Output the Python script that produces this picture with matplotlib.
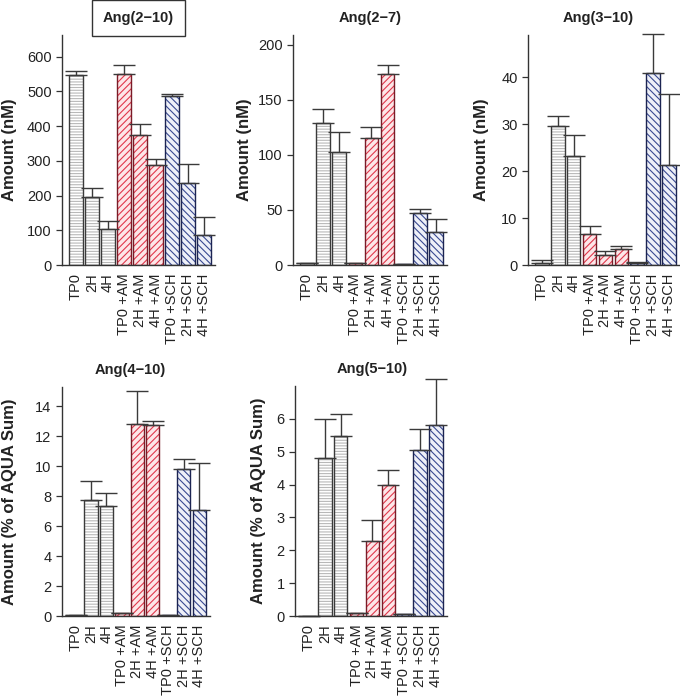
import matplotlib
matplotlib.use('Agg')
import matplotlib.pyplot as plt
import numpy as np

plt.rcParams['font.family'] = ['Liberation Sans', 'DejaVu Sans']
plt.rcParams['hatch.linewidth'] = 0.8

groups = ['TP0', '2H', '4H', 'TP0 +AM', '2H +AM', '4H +AM', 'TP0 +SCH', '2H +SCH', '4H +SCH']

titles = ['Ang(2\u221210)', 'Ang(2\u22127)', 'Ang(3\u221210)', 'Ang(4\u221210)', 'Ang(5\u221210)']
ylabels = ['Amount (nM)', 'Amount (nM)', 'Amount (nM)',
           'Amount (% of AQUA Sum)', 'Amount (% of AQUA Sum)']

ang_2_10 = [548, 196, 105, 551, 373, 288, 485, 236, 86]
ang_2_10_err = [9, 26, 22, 25, 34, 18, 8, 56, 52]
ang_2_7 = [1.5, 128.7, 103, 1.5, 115, 174, 1, 47.3, 30.3]
ang_2_7_err = [0, 13, 17.5, 0, 10.6, 8, 0, 4, 11.6]
ang_3_10 = [0.5, 29.7, 23.3, 6.5, 2.2, 3.35, 0.5, 40.9, 21.2]
ang_3_10_err = [0.5, 2.0, 4.4, 1.8, 0.7, 0.75, 0.1, 8.3, 15.2]
ang_4_10 = [0.08, 7.72, 7.32, 0.18, 12.8, 12.73, 0.08, 9.85, 7.05]
ang_4_10_err = [0, 1.32, 0.9, 0, 2.23, 0.27, 0, 0.62, 3.15]
ang_5_10 = [0.01, 4.82, 5.48, 0.08, 2.29, 3.99, 0.05, 5.06, 5.82]
ang_5_10_err = [0, 1.17, 0.66, 0.02, 0.62, 0.46, 0, 0.63, 1.39]

means = [ang_2_10, ang_2_7, ang_3_10, ang_4_10, ang_5_10]
errs = [ang_2_10_err, ang_2_7_err, ang_3_10_err, ang_4_10_err, ang_5_10_err]
ylims = [662, 209, 49, 15.3, 7.0]
ytick_steps = [100, 50, 10, 2, 1]
ytick_max = [600, 200, 40, 14, 6]

# fill, hatch colour, edge, hatch pattern for control / AM / SCH groups
styles = [('white', '#b8b8b8', '#3a3a3a', '------'),
          ('#fde6e8', '#e0384c', '#7a1c28', '/////'),
          ('#eef0f8', '#3a4a92', '#1c2452', '\\\\\\\\\\')]

# axes rects in pixels: left, right, bottom(y from top), top
rects_px = [(62, 215, 265, 35), (293, 447, 265, 35), (528, 680, 265, 35),
            (62, 210, 616, 387), (295, 447, 616, 386)]
ylabel_x = [-0.346, -0.312, -0.309, -0.358, -0.243]
title_x = [0.50, 0.50, 0.46, 0.46, 0.51]

W, H = 680, 696
fig = plt.figure(figsize=(W / 100, H / 100), dpi=100)

x = np.arange(len(groups))
for i in range(5):
    l, r, b, t = rects_px[i]
    ax = fig.add_axes([l / W, (H - b) / H, (r - l) / W, (b - t) / H])
    vals = means[i]
    err = errs[i]
    for j in range(len(groups)):
        fill, hc, ec, hatch = styles[j // 3]
        ax.bar(x[j], vals[j], width=0.85, color=fill, edgecolor=hc, hatch=hatch, linewidth=0)
        ax.bar(x[j], vals[j], width=0.85, fill=False, edgecolor=ec, linewidth=1.0)
    ax.errorbar(x, vals, yerr=[np.zeros(len(vals)), err], fmt='none', ecolor='#3a3a3a',
                elinewidth=1.0, capsize=8, capthick=1.0, clip_on=False)
    ax.set_xlim(-0.875, 8.69)
    ax.set_ylim(0, ylims[i])
    ax.set_yticks(np.arange(0, ytick_max[i] + ytick_steps[i] * 0.01, ytick_steps[i]))
    ax.set_xticks(x)
    ax.set_xticklabels(groups, rotation=90, fontsize=10.5, color='#222222')
    ax.tick_params(axis='x', length=0, pad=6)
    ax.tick_params(axis='y', length=4, width=0.9, labelsize=10.5, labelcolor='#222222', color='#333333')
    for s in ['top', 'right']:
        ax.spines[s].set_visible(False)
    for s in ['left', 'bottom']:
        ax.spines[s].set_linewidth(1.0)
        ax.spines[s].set_color('#333333')
    ax.set_ylabel(ylabels[i], fontsize=12, fontweight='bold', color='#222222', va='center')
    ax.yaxis.set_label_coords(ylabel_x[i], 0.5)
    if i == 0:
        ax.text(title_x[i], 1.074, titles[i], transform=ax.transAxes, ha='center', va='center',
                fontsize=10.5, fontweight='bold', color='#222222',
                bbox=dict(boxstyle='square,pad=0.75', facecolor='white', edgecolor='#333333', linewidth=1.0))
    else:
        ax.text(title_x[i], 1.074, titles[i], transform=ax.transAxes, ha='center', va='center',
                fontsize=10.5, fontweight='bold', color='#222222')

plt.savefig('out.png', dpi=100)
plt.close()
